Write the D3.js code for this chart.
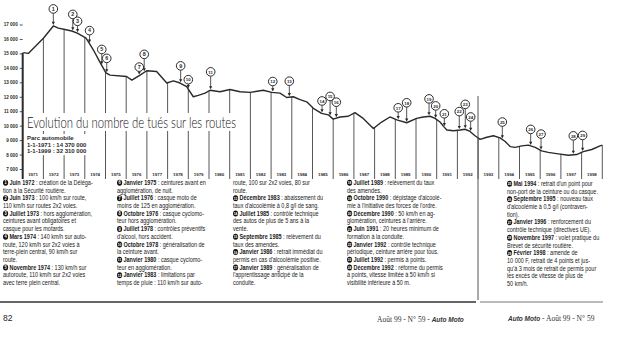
<!DOCTYPE html>
<html>
<head>
<meta charset="utf-8">
<script src="https://cdn.jsdelivr.net/npm/d3@7"></script>
<style>
  body { margin: 0; background: #fff; }
  svg { display: block; }
</style>
</head>
<body>
<svg id="chart" width="626" height="345"></svg>
<script>
// deaths on the roads, rolling total (decimal year, deaths)
var times = [1971.03, 1971.27, 1972.0, 1972.48, 1972.72, 1973.04, 1973.37, 1973.64, 1974.06, 1974.22,
  1974.41, 1974.73, 1975.02, 1975.22, 1976.02, 1976.27, 1976.67, 1976.99, 1977.47, 1977.96,
  1978.28, 1978.6, 1978.92, 1979.24, 1979.48, 1979.81, 1980.05, 1980.53, 1981.01, 1981.5,
  1981.98, 1982.62, 1983.03, 1983.43, 1983.75, 1984.07, 1984.4, 1984.72, 1985.04, 1985.44,
  1985.76, 1986.0, 1986.33, 1986.73, 1987.05, 1987.45, 1987.94, 1988.34, 1988.74, 1989.07,
  1989.55, 1990.03, 1990.35, 1990.68, 1990.92, 1991.16, 1991.33, 1991.49, 1991.81, 1992.13,
  1992.37, 1992.61, 1992.85, 1993.1, 1993.42, 1993.74, 1994.06, 1994.31, 1994.55, 1994.79,
  1995.11, 1995.43, 1995.76, 1996.07, 1996.39, 1996.87, 1997.36, 1997.76, 1998.08, 1998.49,
  1998.89, 1999.0];
var deaths = [15050, 15000, 16050, 16900, 16750, 16650, 16550, 16400, 16050, 15700,
  15250, 14400, 13650, 13500, 13400, 13150, 13500, 13800, 13750, 12950,
  13100, 12950, 12700, 12000, 12100, 12250, 12450, 12350, 12500, 12350,
  12300, 12450, 12300, 12250, 11950, 12000, 11800, 11650, 11200, 10850,
  10750, 10450, 10600, 10650, 10900, 10500, 9800, 10250, 10600, 10400,
  10200, 10500, 10600, 10650, 10500, 10250, 9950, 9700, 9650, 9700,
  9750, 9600, 9300, 9050, 9200, 9300, 9150, 8900, 8550, 8500,
  8600, 8650, 8500, 8250, 8150, 8050, 7950, 8000, 8200, 8350,
  8600, 8650];

var yTicks = d3.range(7000, 17001, 1000);
var yearLabels = d3.range(1971, 1999);

// numbered measures and where they sit on the time axis
var markerNums = d3.range(1, 30);
var markerTimes = [1972.48, 1973.42, 1973.65, 1974.23, 1974.82, 1975.06, 1976.63, 1976.87, 1978.63, 1979.0,
  1980.08, 1983.08, 1983.88, 1985.46, 1985.85, 1986.15, 1989.14, 1989.55, 1990.63, 1990.95,
  1991.37, 1992.09, 1992.38, 1992.64, 1994.17, 1995.54, 1996.04, 1997.6, 1998.05];

var title = "Evolution du nombre de tués sur les routes";
var parcLines = ["Parc automobile", "1-1-1971 : 14 370 000", "1-1-1999 : 32 310 000"];

var notesCol1 = [
  [1, "Juin 1972", " : création de la Déléga-"],
  "tion à la Sécurité routière.",
  [2, "Juin 1973", " : 100 km/h sur route,"],
  "110 km/h sur routes 2x2 voies.",
  [3, "Juillet 1973", " : hors agglomération,"],
  "ceintures avant obligatoires et",
  "casque pour les motards.",
  [4, "Mars 1974", " : 140 km/h sur auto-"],
  "route, 120 km/h sur 2x2 voies à",
  "terre-plein central, 90 km/h sur",
  "route.",
  [5, "Novembre 1974", " : 130 km/h sur"],
  "autoroute, 110 km/h sur 2x2 voies",
  "avec terre plein central."
];
var notesCol2 = [
  [6, "Janvier 1975", " : ceintures avant en"],
  "agglomération, de nuit.",
  [7, "Juillet 1976", " : casque moto de"],
  "moins de 125 en agglomération.",
  [8, "Octobre 1976", " : casque cyclomo-"],
  "teur hors agglomération.",
  [9, "Juillet 1978", " : contrôles préventifs"],
  "d'alcool, hors accident.",
  [10, "Octobre 1978", " : généralisation de"],
  "la ceinture avant.",
  [11, "Janvier 1980", " : casque cyclomo-"],
  "teur en agglomération.",
  [12, "Janvier 1983", " : limitations par"],
  "temps de pluie : 110 km/h sur auto-"
];
var notesCol3 = [
  "route, 100 sur 2x2 voies, 80 sur",
  "route.",
  [13, "Décembre 1983", " : abaissement du"],
  "taux d'alcoolémie à 0,8 g/l de sang.",
  [14, "Juillet 1985", " : contrôle technique"],
  "des autos de plus de 5 ans à la",
  "vente.",
  [15, "Septembre 1985", " : relèvement du"],
  "taux des amendes.",
  [16, "Janvier 1986", " : retrait immédiat du"],
  "permis en cas d'alcoolémie positive.",
  [17, "Janvier 1989", " : généralisation de"],
  "l'apprentissage anticipé de la",
  "conduite."
];
var notesCol4 = [
  [18, "Juillet 1989", " : relèvement du taux"],
  "des amendes.",
  [19, "Octobre 1990", " : dépistage d'alcoolé-"],
  "mie à l'initiative des forces de l'ordre.",
  [20, "Décembre 1990", " : 50 km/h en ag-"],
  "glomération, ceintures à l'arrière.",
  [21, "Juin 1991", " : 20 heures minimum de"],
  "formation à la conduite.",
  [22, "Janvier 1992", " : contrôle technique"],
  "périodique, ceinture arrière pour tous.",
  [23, "Juillet 1992", " : permis à points."],
  [24, "Décembre 1992", " : réforme du permis"],
  "à points, vitesse limitée à 50 km/h si",
  "visibilité inférieure à 50 m."
];
var notesCol5 = [
  [25, "Mai 1994", " : retrait d'un point pour"],
  "non-port de la ceinture ou du casque.",
  [26, "Septembre 1995", " : nouveau taux"],
  "d'alcoolémie à 0,5 g/l (contraven-",
  "tion).",
  [27, "Janvier 1996", " : renforcement du"],
  "contrôle technique (directives UE).",
  [28, "Novembre 1997", " : volet pratique du"],
  "Brevet de sécurité routière.",
  [29, "Février 1998", " : amende de"],
  "10 000 F, retrait de 4 points et jus-",
  "qu'à 3 mois de retrait de permis pour",
  "les excès de vitesse de plus de",
  "50 km/h."
];

var svg = d3.select("#chart");
var ink = "#2a2a2a";

var x = d3.scaleLinear().domain([1971, 1999]).range([22.7, 602.3]);
var y = d3.scaleLinear().domain([7000, 17000]).range([169, 24.5]);
var axisBottomY = 179;

function valAt(t) {
  var i = d3.bisectRight(times, t);
  if (i <= 0) return deaths[0];
  if (i >= times.length) return deaths[deaths.length - 1];
  var k = (t - times[i - 1]) / (times[i] - times[i - 1]);
  return deaths[i - 1] + k * (deaths[i] - deaths[i - 1]);
}

// vertical year lines from the curve down to the labels
var yearLines = d3.range(1972, 2000);
svg.append("g")
  .selectAll("line")
  .data(yearLines)
  .enter().append("line")
  .attr("x1", d => x(d)).attr("x2", d => x(d))
  .attr("y1", d => y(valAt(d)))
  .attr("y2", axisBottomY)
  .attr("stroke", "#444")
  .attr("stroke-width", 0.9);

// y axis: ticks, then heavy axis line from the curve start down
var yAxis = svg.append("g")
  .attr("transform", "translate(" + x(1971) + ",0)")
  .call(d3.axisLeft(y).tickValues(yTicks).tickSize(3).tickPadding(2)
    .tickFormat(d => d3.format(",")(d).replace(",", " ")));
yAxis.select(".domain").remove();
yAxis.selectAll("line").attr("stroke", ink).attr("stroke-width", 0.8);
yAxis.selectAll("text")
  .attr("fill", ink)
  .style("font-family", "'Liberation Sans', Arial, sans-serif")
  .style("font-size", "4.6px")
  .style("font-weight", "bold");

svg.append("line")
  .attr("x1", x(1971)).attr("x2", x(1971))
  .attr("y1", y(deaths[0]))
  .attr("y2", axisBottomY)
  .attr("stroke", ink)
  .attr("stroke-width", 2);

// year labels
svg.append("g")
  .selectAll("text")
  .data(yearLabels)
  .enter().append("text")
  .attr("x", d => x(d + 0.5))
  .attr("y", 176)
  .attr("text-anchor", "middle")
  .attr("fill", ink)
  .style("font-family", "'Liberation Sans', Arial, sans-serif")
  .style("font-size", "4.4px")
  .style("font-weight", "bold")
  .text(d => d);

// title with a white box that breaks the year lines
var titleG = svg.append("g");
var titleText = titleG.append("text")
  .attr("x", 27)
  .attr("y", 128)
  .attr("fill", "#111")
  .attr("textLength", 209)
  .attr("lengthAdjust", "spacingAndGlyphs")
  .style("font-family", "Lato, 'Open Sans', sans-serif")
  .style("font-size", "15px")
  .style("font-weight", 300)
  .text(title);
var tb = titleText.node().getBBox();
titleG.insert("rect", "text")
  .attr("x", tb.x - 2).attr("y", tb.y)
  .attr("width", tb.width + 3).attr("height", tb.height)
  .attr("fill", "#fff");

var parcG = svg.append("g");
parcG.selectAll("text")
  .data(parcLines)
  .enter().append("text")
  .attr("x", 27)
  .attr("y", (d, i) => 140 + i * 6.6)
  .attr("fill", ink)
  .style("font-family", "'Liberation Sans', Arial, sans-serif")
  .style("font-size", "6px")
  .style("font-weight", "bold")
  .text(d => d);
var pb = parcG.node().getBBox();
parcG.insert("rect", "text")
  .attr("x", pb.x - 1).attr("y", pb.y - 1)
  .attr("width", pb.width + 1).attr("height", pb.height + 2)
  .attr("fill", "#fff");

// the curve
var line = d3.line()
  .x((d, i) => x(times[i]))
  .y(d => y(d));

svg.append("path")
  .attr("d", line(deaths))
  .attr("fill", "none")
  .attr("stroke", ink)
  .attr("stroke-width", 1.4)
  .attr("stroke-linejoin", "round");

// markers: circled number on a stem with an arrow down onto the curve
var markerLift = [16, 16, 11, 12, 15, 14, 7.5, 17, 16.5, 8.5, 17.5, 10, 15, 11.5, 19, 15, 11.5, 19, 16.5, 12,
  12.5, 17.5, 24, 14, 16.5, 15.5, 15.5, 18, 15.5];
var r = 4.3;
var markers = svg.append("g")
  .selectAll("g")
  .data(markerNums)
  .enter().append("g")
  .attr("transform", (d, i) => "translate(" + x(markerTimes[i]) + "," + (y(valAt(markerTimes[i])) - 1) + ")");

markers.append("line")
  .attr("x1", 0).attr("x2", 0)
  .attr("y1", (d, i) => -markerLift[i] + r)
  .attr("y2", -2)
  .attr("stroke", ink)
  .attr("stroke-width", 0.8);
markers.append("path")
  .attr("d", "M-1.6,-3.2L1.6,-3.2L0,0Z")
  .attr("fill", ink);
markers.append("circle")
  .attr("cy", (d, i) => -markerLift[i])
  .attr("r", r)
  .attr("fill", "#fff")
  .attr("stroke", ink)
  .attr("stroke-width", 1);
markers.append("text")
  .attr("y", (d, i) => -markerLift[i] + 1.8)
  .attr("text-anchor", "middle")
  .attr("fill", ink)
  .style("font-family", "'Liberation Sans', Arial, sans-serif")
  .style("font-size", d => d > 9 ? "4.4px" : "5.4px")
  .style("font-weight", "bold")
  .text(d => d);

// notes below the chart
var noteStep = 7.7;
var squeeze = 0.86;
function drawNotes(lines, cx, cy) {
  var g = svg.append("g")
    .attr("transform", "translate(" + cx + "," + cy + ") scale(" + squeeze + ",1)");
  lines.forEach(function (ln, i) {
    var ly = i * noteStep;
    var t = g.append("text")
      .attr("y", ly)
      .attr("fill", "#1a1a1a")
      .style("font-family", "'Liberation Sans', Arial, sans-serif")
      .style("font-size", "6.4px");
    if (typeof ln === "string") {
      t.attr("x", 0).text(ln);
    } else {
      g.append("circle")
        .attr("cx", 3).attr("cy", ly - 2.2)
        .attr("r", 3)
        .attr("fill", "#111");
      g.append("text")
        .attr("x", 3).attr("y", ly - 0.6)
        .attr("text-anchor", "middle")
        .attr("fill", "#fff")
        .style("font-family", "'Liberation Sans', Arial, sans-serif")
        .style("font-size", ln[0] > 9 ? "3.8px" : "4.6px")
        .style("font-weight", "bold")
        .text(ln[0]);
      t.attr("x", 7.5);
      t.append("tspan").style("font-weight", "bold").text(ln[1]);
      t.append("tspan").text(ln[2]);
    }
  });
}
drawNotes(notesCol1, 3, 185);
drawNotes(notesCol2, 117, 185);
drawNotes(notesCol3, 233, 185);
drawNotes(notesCol4, 347, 185);
drawNotes(notesCol5, 507, 186);

// gutter between the two pages
svg.append("line")
  .attr("x1", 478).attr("x2", 478)
  .attr("y1", 96).attr("y2", 300)
  .attr("stroke", "#555")
  .attr("stroke-width", 1);

// bottom rule and folios
svg.append("line")
  .attr("x1", 0).attr("x2", 476)
  .attr("y1", 302).attr("y2", 302)
  .attr("stroke", "#333")
  .attr("stroke-width", 1.6);
svg.append("line")
  .attr("x1", 480).attr("x2", 603)
  .attr("y1", 302).attr("y2", 302)
  .attr("stroke", "#777")
  .attr("stroke-width", 1.2);

svg.append("text")
  .attr("x", 3).attr("y", 321)
  .attr("fill", "#222")
  .style("font-family", "'Liberation Sans', Arial, sans-serif")
  .style("font-size", "8.5px")
  .text("82");

var fl = svg.append("text")
  .attr("x", 377).attr("y", 322)
  .attr("fill", "#333")
  .style("font-family", "'Liberation Serif', serif")
  .style("font-size", "7.5px");
fl.append("tspan").text("Août 99 - N° 59 - ");
fl.append("tspan")
  .style("font-family", "'Liberation Sans', Arial, sans-serif")
  .style("font-weight", "bold").style("font-style", "italic")
  .style("font-size", "6.5px")
  .text("Auto Moto");

var fr = svg.append("text")
  .attr("x", 508).attr("y", 321)
  .attr("fill", "#333")
  .style("font-family", "'Liberation Serif', serif")
  .style("font-size", "7.5px");
fr.append("tspan")
  .style("font-family", "'Liberation Sans', Arial, sans-serif")
  .style("font-weight", "bold").style("font-style", "italic")
  .style("font-size", "6.5px")
  .text("Auto Moto");
fr.append("tspan").text(" - Août 99 - N° 59");
</script>
</body>
</html>
